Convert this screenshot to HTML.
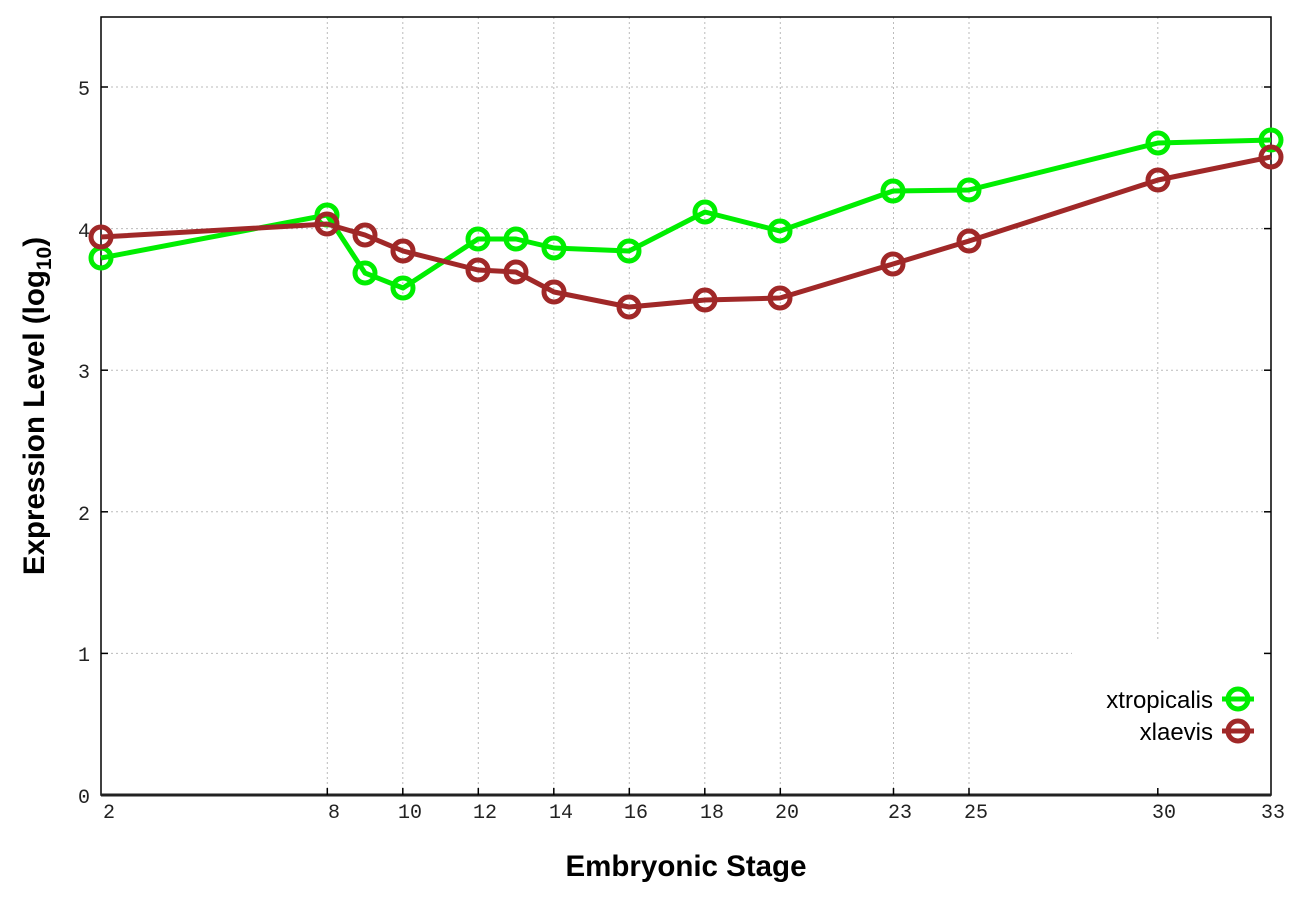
<!DOCTYPE html>
<html><head><meta charset="utf-8"><style>
html,body{margin:0;padding:0;background:#fff;width:1296px;height:907px;overflow:hidden}
text{font-family:"Liberation Mono",monospace;font-size:20px;fill:#222}
.b{font-family:"Liberation Sans",sans-serif;font-weight:bold;font-size:29.5px;fill:#000}
.l{font-family:"Liberation Sans",sans-serif;font-size:24px;fill:#000}
</style></head><body>
<svg width="1296" height="907" xmlns="http://www.w3.org/2000/svg">
<g stroke="#bbb" stroke-width="1" stroke-dasharray="2,3">
<line x1="101" x2="1271" y1="87" y2="87"/><line x1="101" x2="1271" y1="228.6" y2="228.6"/>
<line x1="101" x2="1271" y1="370.2" y2="370.2"/><line x1="101" x2="1271" y1="511.8" y2="511.8"/>
<line x1="101" x2="1271" y1="653.4" y2="653.4"/>
<line x1="327.3" x2="327.3" y1="17" y2="795"/><line x1="402.8" x2="402.8" y1="17" y2="795"/>
<line x1="478.3" x2="478.3" y1="17" y2="795"/><line x1="553.8" x2="553.8" y1="17" y2="795"/>
<line x1="629.3" x2="629.3" y1="17" y2="795"/><line x1="704.8" x2="704.8" y1="17" y2="795"/>
<line x1="780.3" x2="780.3" y1="17" y2="795"/><line x1="893.5" x2="893.5" y1="17" y2="795"/>
<line x1="969" x2="969" y1="17" y2="795"/><line x1="1157.8" x2="1157.8" y1="17" y2="795"/>
</g>
<rect x="1072" y="642" width="198" height="152" fill="#fff"/>
<rect x="101" y="17" width="1170" height="778" fill="none" stroke="#000" stroke-width="1.5"/>
<line x1="101" x2="1271" y1="795" y2="795" stroke="#222" stroke-width="3"/>
<g stroke="#000" stroke-width="1.5">
<line x1="101" x2="108" y1="87" y2="87"/><line x1="101" x2="108" y1="228.6" y2="228.6"/><line x1="101" x2="108" y1="370.2" y2="370.2"/><line x1="101" x2="108" y1="511.8" y2="511.8"/><line x1="101" x2="108" y1="653.4" y2="653.4"/>
<line x1="1264" x2="1271" y1="87" y2="87"/><line x1="1264" x2="1271" y1="228.6" y2="228.6"/><line x1="1264" x2="1271" y1="370.2" y2="370.2"/><line x1="1264" x2="1271" y1="511.8" y2="511.8"/><line x1="1264" x2="1271" y1="653.4" y2="653.4"/>
<line x1="327.3" x2="327.3" y1="788" y2="795"/><line x1="402.8" x2="402.8" y1="788" y2="795"/><line x1="478.3" x2="478.3" y1="788" y2="795"/><line x1="553.8" x2="553.8" y1="788" y2="795"/><line x1="629.3" x2="629.3" y1="788" y2="795"/><line x1="704.8" x2="704.8" y1="788" y2="795"/><line x1="780.3" x2="780.3" y1="788" y2="795"/><line x1="893.5" x2="893.5" y1="788" y2="795"/><line x1="969" x2="969" y1="788" y2="795"/><line x1="1157.8" x2="1157.8" y1="788" y2="795"/>
</g>
<g text-anchor="end">
<text x="90" y="95">5</text><text x="90" y="237">4</text><text x="90" y="378">3</text><text x="90" y="520">2</text><text x="90" y="661">1</text><text x="90" y="803">0</text>
</g>
<g text-anchor="middle">
<text x="109" y="818">2</text><text x="334" y="818">8</text><text x="410" y="818">10</text><text x="485" y="818">12</text><text x="561" y="818">14</text><text x="636" y="818">16</text><text x="712" y="818">18</text><text x="787" y="818">20</text><text x="900" y="818">23</text><text x="976" y="818">25</text><text x="1164" y="818">30</text><text x="1273" y="818">33</text>
</g>
<text class="b" x="686" y="876" text-anchor="middle">Embryonic Stage</text>
<text class="b" transform="translate(44,406) rotate(-90)" text-anchor="middle">Expression Level (log<tspan font-size="21" dy="7">10</tspan><tspan dy="-7">)</tspan></text>
<g fill="none" stroke-width="5" stroke-linejoin="round">
<polyline stroke="#00ee00" points="101,258 327,215 365,273 403,288 478,239 516,239 554,248 629,251 705,212 780,231 893,191 969,190 1158,143 1271,140"/>
<g stroke="#00ee00"><circle cx="101" cy="258" r="10"/><circle cx="327" cy="215" r="10"/><circle cx="365" cy="273" r="10"/><circle cx="403" cy="288" r="10"/><circle cx="478" cy="239" r="10"/><circle cx="516" cy="239" r="10"/><circle cx="554" cy="248" r="10"/><circle cx="629" cy="251" r="10"/><circle cx="705" cy="212" r="10"/><circle cx="780" cy="231" r="10"/><circle cx="893" cy="191" r="10"/><circle cx="969" cy="190" r="10"/><circle cx="1158" cy="143" r="10"/><circle cx="1271" cy="140" r="10"/></g>
<polyline stroke="#a02828" points="101,237 327,224 365,235 403,251 478,270 516,272 554,292 629,307 705,300 780,298 893,264 969,241 1158,180 1271,157"/>
<g stroke="#a02828"><circle cx="101" cy="237" r="10"/><circle cx="327" cy="224" r="10"/><circle cx="365" cy="235" r="10"/><circle cx="403" cy="251" r="10"/><circle cx="478" cy="270" r="10"/><circle cx="516" cy="272" r="10"/><circle cx="554" cy="292" r="10"/><circle cx="629" cy="307" r="10"/><circle cx="705" cy="300" r="10"/><circle cx="780" cy="298" r="10"/><circle cx="893" cy="264" r="10"/><circle cx="969" cy="241" r="10"/><circle cx="1158" cy="180" r="10"/><circle cx="1271" cy="157" r="10"/></g>
<line x1="1222" x2="1254" y1="699" y2="699" stroke="#00ee00"/><circle cx="1238" cy="699" r="10" stroke="#00ee00"/>
<line x1="1222" x2="1254" y1="731" y2="731" stroke="#a02828"/><circle cx="1238" cy="731" r="10" stroke="#a02828"/>
</g>
<text class="l" x="1213" y="708" text-anchor="end">xtropicalis</text>
<text class="l" x="1213" y="740" text-anchor="end">xlaevis</text>
</svg>
</body></html>
